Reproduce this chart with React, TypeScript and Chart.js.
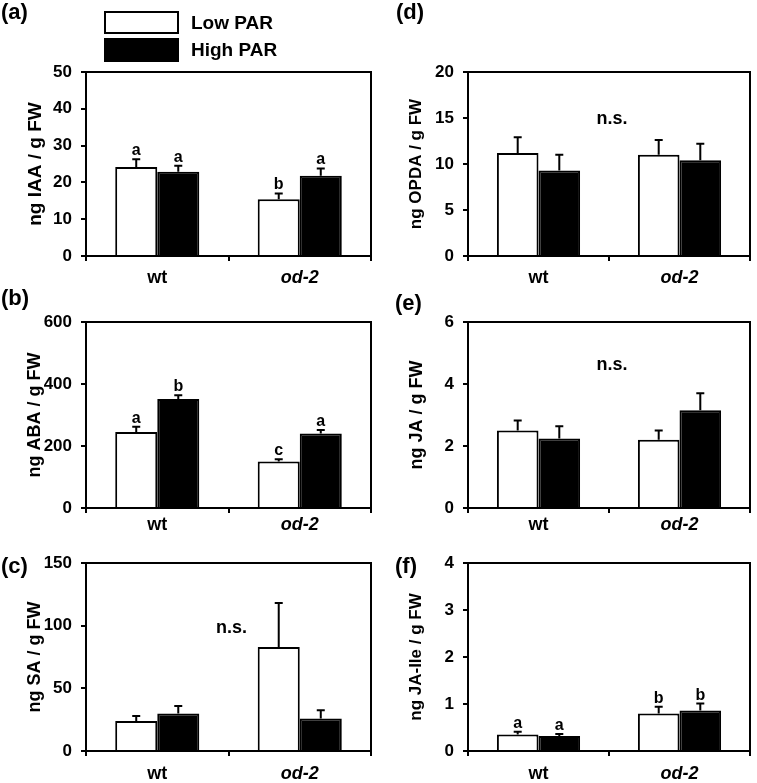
import React, { useEffect, useRef } from 'react';
import { Chart, registerables } from 'chart.js';

Chart.register(...registerables);

const FONT = '"Liberation Sans", Arial, Helvetica, sans-serif';
const W = 757;
const H = 783;

// ---- data ----
const categories = ['wt', 'od-2'];
const seriesNames = ['Low PAR', 'High PAR'];

// (a) IAA
const iaaLow = [24.2, 15.4];
const iaaLowErr = [2.1, 1.6];
const iaaHigh = [22.9, 21.8];
const iaaHighErr = [1.6, 2.0];
const iaaLowLetters = ['a', 'b'];
const iaaHighLetters = ['a', 'a'];
const iaaTicks = { max: 50, step: 10 };

// (b) ABA
const abaLow = [245, 150];
const abaLowErr = [17, 7];
const abaHigh = [352, 240];
const abaHighErr = [12, 12];
const abaLowLetters = ['a', 'c'];
const abaHighLetters = ['b', 'a'];
const abaTicks = { max: 600, step: 200 };

// (c) SA
const saLow = [24, 83];
const saLowErr = [4, 35];
const saHigh = [30, 26];
const saHighErr = [6, 6.5];
const saNs = 98;
const saTicks = { max: 150, step: 50 };

// (d) OPDA
const opdaLow = [11.2, 11.0];
const opdaLowErr = [1.7, 1.6];
const opdaHigh = [9.3, 10.4];
const opdaHighErr = [1.7, 1.8];
const opdaNs = 14.9;
const opdaTicks = { max: 20, step: 5 };

// (e) JA
const jaLow = [2.5, 2.2];
const jaLowErr = [0.32, 0.3];
const jaHigh = [2.24, 3.15];
const jaHighErr = [0.4, 0.55];
const jaNs = 4.6;
const jaTicks = { max: 6, step: 2 };

// (f) JA-Ile
const jaIleLow = [0.35, 0.8];
const jaIleLowErr = [0.06, 0.14];
const jaIleHigh = [0.32, 0.86];
const jaIleHighErr = [0.04, 0.15];
const jaIleLowLetters = ['a', 'b'];
const jaIleHighLetters = ['a', 'b'];
const jaIleTicks = { max: 4, step: 1 };

// ---- panel definitions (data + layout) ----
type Panel = {
  label: string;
  title: string;
  titleSize: number;
  low: number[];
  high: number[];
  lowErr: number[];
  highErr: number[];
  lowLetters?: string[];
  highLetters?: string[];
  ns?: number;
  max: number;
  step: number;
  col: number;
  top: number;
  bottom: number;
  xPad: number;
  labelX: number;
  labelY: number;
  legend?: boolean;
};

const panels: Panel[] = [
  { label: '(a)', title: 'ng IAA / g FW', titleSize: 19, low: iaaLow, high: iaaHigh, lowErr: iaaLowErr, highErr: iaaHighErr,
    lowLetters: iaaLowLetters, highLetters: iaaHighLetters, max: iaaTicks.max, step: iaaTicks.step,
    col: 0, top: 72, bottom: 256, xPad: 6, labelX: 1, labelY: 13, legend: true },
  { label: '(b)', title: 'ng ABA / g FW', titleSize: 18, low: abaLow, high: abaHigh, lowErr: abaLowErr, highErr: abaHighErr,
    lowLetters: abaLowLetters, highLetters: abaHighLetters, max: abaTicks.max, step: abaTicks.step,
    col: 0, top: 322, bottom: 508, xPad: 1, labelX: 1, labelY: 299 },
  { label: '(c)', title: 'ng SA / g FW', titleSize: 18, low: saLow, high: saHigh, lowErr: saLowErr, highErr: saHighErr,
    ns: saNs, max: saTicks.max, step: saTicks.step,
    col: 0, top: 563, bottom: 751, xPad: 7, labelX: 1, labelY: 567 },
  { label: '(d)', title: 'ng OPDA / g FW', titleSize: 17, low: opdaLow, high: opdaHigh, lowErr: opdaLowErr, highErr: opdaHighErr,
    ns: opdaNs, max: opdaTicks.max, step: opdaTicks.step,
    col: 1, top: 72, bottom: 256, xPad: 6, labelX: 396, labelY: 13 },
  { label: '(e)', title: 'ng JA / g FW', titleSize: 18, low: jaLow, high: jaHigh, lowErr: jaLowErr, highErr: jaHighErr,
    ns: jaNs, max: jaTicks.max, step: jaTicks.step,
    col: 1, top: 322, bottom: 508, xPad: 1, labelX: 395, labelY: 304 },
  { label: '(f)', title: 'ng JA-Ile / g FW', titleSize: 17, low: jaIleLow, high: jaIleHigh, lowErr: jaIleLowErr, highErr: jaIleHighErr,
    lowLetters: jaIleLowLetters, highLetters: jaIleHighLetters, max: jaIleTicks.max, step: jaIleTicks.step,
    col: 1, top: 563, bottom: 751, xPad: 7, labelX: 395, labelY: 567 },
];

const decoPlugin = {
  id: 'panelDeco',
  afterDatasetsDraw(chart: any, _args: any, opts: any) {
    const { ctx, chartArea: ca, scales } = chart;
    const y = scales.y;
    ctx.save();
    ctx.strokeStyle = '#000';
    ctx.lineWidth = 2;
    // frame top and right
    ctx.beginPath();
    ctx.moveTo(ca.left - 1, ca.top);
    ctx.lineTo(ca.right, ca.top);
    ctx.lineTo(ca.right, ca.bottom + 1);
    ctx.stroke();

    // error bars + letters
    ctx.fillStyle = '#000';
    ctx.font = `bold 16px ${FONT}`;
    ctx.textAlign = 'center';
    ctx.textBaseline = 'alphabetic';
    chart.data.datasets.forEach((ds: any, di: number) => {
      const meta = chart.getDatasetMeta(di);
      const errs: number[] = opts.errors[di];
      const letters: string[] | undefined = opts.letters ? opts.letters[di] : undefined;
      meta.data.forEach((bar: any, i: number) => {
        const v = ds.data[i];
        const yBar = y.getPixelForValue(v);
        const yTop = y.getPixelForValue(v + errs[i]);
        ctx.beginPath();
        ctx.moveTo(bar.x, yBar);
        ctx.lineTo(bar.x, yTop);
        ctx.moveTo(bar.x - 4, yTop);
        ctx.lineTo(bar.x + 4, yTop);
        ctx.stroke();
        if (letters && letters[i]) {
          ctx.fillText(letters[i], bar.x, yTop - 4);
        }
      });
    });

    // n.s.
    if (opts.ns !== undefined && opts.ns !== null) {
      ctx.font = `bold 18px ${FONT}`;
      ctx.textBaseline = 'middle';
      ctx.fillText('n.s.', (ca.left + ca.right) / 2 + 3, y.getPixelForValue(opts.ns));
    }

    // panel label
    ctx.font = `bold 22px ${FONT}`;
    ctx.textAlign = 'left';
    ctx.textBaseline = 'middle';
    ctx.fillText(opts.label, opts.labelX, opts.labelY);

    // legend
    if (opts.legend) {
      const names: string[] = opts.names;
      const fills = ['#fff', '#000'];
      const boxes = [
        { x: 105, y: 12, w: 73, h: 21 },
        { x: 105, y: 39, w: 73, h: 22 },
      ];
      ctx.font = `bold 19px ${FONT}`;
      boxes.forEach((b, k) => {
        ctx.fillStyle = fills[k];
        ctx.fillRect(b.x, b.y, b.w, b.h);
        ctx.strokeStyle = '#000';
        ctx.lineWidth = 2;
        ctx.strokeRect(b.x, b.y, b.w, b.h);
        ctx.fillStyle = '#000';
        ctx.textAlign = 'left';
        ctx.textBaseline = 'middle';
        ctx.fillText(names[k], 191, b.y + b.h / 2 + 1);
      });
    }
    ctx.restore();
  },
};

function PanelChart({ p }: { p: Panel }) {
  const ref = useRef<HTMLCanvasElement | null>(null);
  useEffect(() => {
    if (!ref.current) return;
    const axisW = 60;
    const plotLeft = p.col === 0 ? 86 : 468;
    const plotRight = p.col === 0 ? 371 : 750;
    const titleCenter = p.col === 0 ? 34 : 416;
    const titlePad = Math.max(0, titleCenter - (plotLeft - axisW) - p.titleSize / 2);
    const chart = new Chart(ref.current, {
      type: 'bar',
      data: {
        labels: categories,
        datasets: [
          {
            label: seriesNames[0],
            data: p.low,
            backgroundColor: '#fff',
            borderColor: '#000',
            borderWidth: 2,
            borderSkipped: 'start',
            categoryPercentage: 0.59,
            barPercentage: 1,
          },
          {
            label: seriesNames[1],
            data: p.high,
            backgroundColor: '#000',
            borderColor: '#000',
            borderWidth: 2,
            borderSkipped: 'start',
            categoryPercentage: 0.59,
            barPercentage: 1,
          },
        ],
      },
      options: {
        responsive: false,
        animation: false,
        layout: {
          padding: {
            left: plotLeft - axisW,
            right: W - plotRight,
            top: p.top,
            bottom: H - p.bottom - 30,
          },
        },
        plugins: {
          legend: { display: false },
          tooltip: { enabled: false },
          panelDeco: {
            errors: [p.lowErr, p.highErr],
            letters: p.lowLetters ? [p.lowLetters, p.highLetters] : undefined,
            ns: p.ns,
            label: p.label,
            labelX: p.labelX,
            labelY: p.labelY,
            legend: !!p.legend,
            names: seriesNames,
          },
        } as any,
        scales: {
          x: {
            type: 'category',
            grid: {
              display: true,
              drawOnChartArea: false,
              drawTicks: true,
              tickLength: 5,
              color: '#000',
              lineWidth: 2,
              offset: true,
            },
            border: { display: true, color: '#000', width: 2 },
            ticks: {
              color: '#000',
              padding: p.xPad,
              maxRotation: 0,
              autoSkip: false,
              font: (c: any) => ({
                family: FONT,
                size: 18,
                weight: 'bold',
                style: c.index === 1 ? 'italic' : 'normal',
              }),
            },
            afterFit: (s: any) => {
              s.height = 30;
            },
          },
          y: {
            min: 0,
            max: p.max,
            ticks: {
              stepSize: p.step,
              color: '#000',
              padding: 9,
              font: { family: FONT, size: 17, weight: 'bold' },
            },
            grid: {
              drawOnChartArea: false,
              drawTicks: true,
              tickLength: 5,
              color: '#000',
              lineWidth: 2,
            },
            border: { display: true, color: '#000', width: 2 },
            title: {
              display: true,
              text: p.title,
              color: '#000',
              font: { family: FONT, size: p.titleSize, weight: 'bold', lineHeight: 1 },
              padding: { top: titlePad, bottom: 0 },
            },
            afterFit: (s: any) => {
              s.width = axisW;
            },
          },
        } as any,
      },
      plugins: [decoPlugin],
    } as any);
    return () => chart.destroy();
  }, [p]);
  return (
    <canvas
      ref={ref}
      width={W}
      height={H}
      style={{ position: 'absolute', left: 0, top: 0, width: W, height: H }}
    />
  );
}

export default function App() {
  return (
    <div
      style={{
        position: 'fixed',
        left: 0,
        top: 0,
        width: W,
        height: H,
        background: '#fff',
        overflow: 'hidden',
      }}
    >
      {panels.map((p) => (
        <PanelChart key={p.label} p={p} />
      ))}
    </div>
  );
}
